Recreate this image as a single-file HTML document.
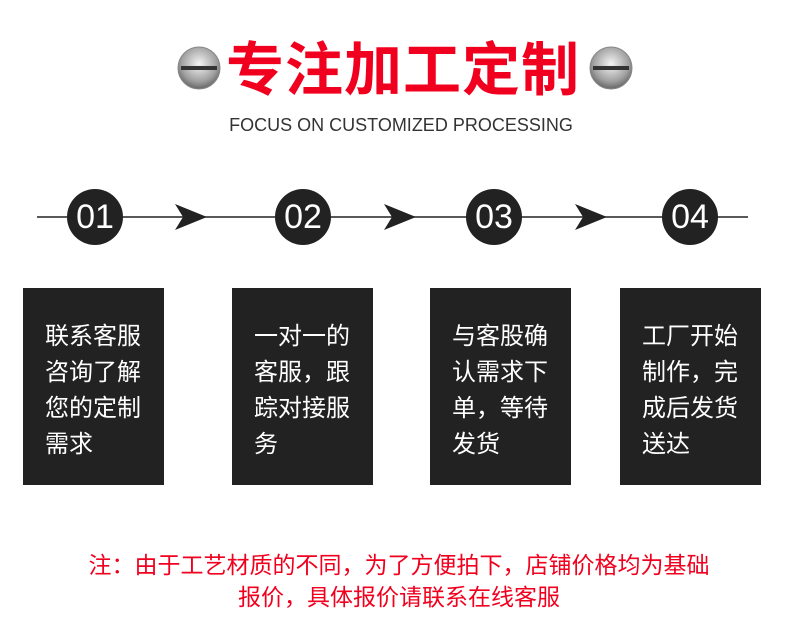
<!DOCTYPE html>
<html><head><meta charset="utf-8"><style>
body{margin:0;width:790px;height:634px;background:#fff;position:relative;overflow:hidden;font-family:"Liberation Sans","Noto Sans CJK SC",sans-serif}
.t{position:absolute;left:0;width:790px;text-align:center}
.title{top:36px;font-size:58px;font-weight:bold;color:#f0001e;letter-spacing:1px;line-height:70px;left:8px}
.sub{top:113px;font-size:18px;color:#333;line-height:24px;left:6px}
.c{position:absolute;width:56px;height:56px;border-radius:50%;background:#222;color:#fff;font-size:34px;line-height:56px;text-align:center;top:189px}
.box{position:absolute;top:288px;width:141px;height:197px;background:#222;color:#fff;font-size:24px;line-height:36px;box-sizing:border-box;padding:31px 0 0 22px}
.note{font-size:23px;color:#f0001e;line-height:32px;top:549px;left:4px}
</style></head><body>
<svg width="790" height="634" style="position:absolute;left:0;top:0">
<defs><radialGradient id="g" cx="50%" cy="40%" r="60%"><stop offset="0" stop-color="#f4f4f4"/><stop offset="0.7" stop-color="#a0a0a0"/><stop offset="1" stop-color="#666"/></radialGradient></defs>
<g><circle cx="199" cy="68" r="21" fill="url(#g)" stroke="#888"/><rect x="181" y="66" width="36" height="4" fill="#333"/></g>
<g><circle cx="611" cy="68" r="21" fill="url(#g)" stroke="#888"/><rect x="593" y="66" width="36" height="4" fill="#333"/></g>
<line x1="37" y1="217" x2="748" y2="217" stroke="#222" stroke-width="1.5"/>
<path d="M175 204 L207 217 L175 230 L183 217 Z" fill="#222"/>
<path d="M384 204 L416 217 L384 230 L392 217 Z" fill="#222"/>
<path d="M575 204 L607 217 L575 230 L583 217 Z" fill="#222"/>
</svg>
<div class="t title">专注加工定制</div>
<div class="t sub">FOCUS ON CUSTOMIZED PROCESSING</div>
<div class="c" style="left:67px">01</div>
<div class="c" style="left:275px">02</div>
<div class="c" style="left:466px">03</div>
<div class="c" style="left:662px">04</div>
<div class="box" style="left:23px">联系客服<br>咨询了解<br>您的定制<br>需求</div>
<div class="box" style="left:232px">一对一的<br>客服，跟<br>踪对接服<br>务</div>
<div class="box" style="left:430px">与客股确<br>认需求下<br>单，等待<br>发货</div>
<div class="box" style="left:620px">工厂开始<br>制作，完<br>成后发货<br>送达</div>
<div class="t note">注：由于工艺材质的不同，为了方便拍下，店铺价格均为基础<br>报价，具体报价请联系在线客服</div>
</body></html>
